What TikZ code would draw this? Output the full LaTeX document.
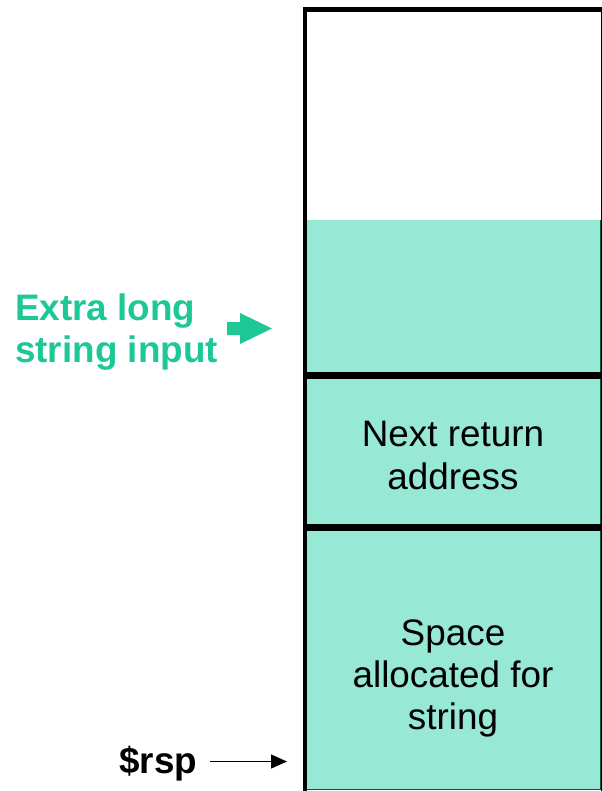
\documentclass[tikz,border=0pt]{standalone}
\usepackage{fontspec}
\setmainfont{Liberation Sans}
\usetikzlibrary{arrows.meta}
\definecolor{slotfill}{RGB}{152,232,214}
\definecolor{slotedge}{RGB}{14,88,66}
\definecolor{inputgreen}{RGB}{29,200,150}
\tikzset{
  frame/.style={draw=black, line width=4.2bp},
  divider/.style={draw=black, line width=6.5bp},
  slottext/.style={align=center, font=\fontsize{37}{42.3}\selectfont, text=black, inner sep=0pt},
  sidelabel/.style={align=left, font=\fontsize{37}{42}\selectfont\bfseries, inner sep=0pt},
  ptrarrow/.style={draw=black, line width=1.3bp, -{Triangle[length=16bp,width=14bp]}},
  blockarrow/.style={fill=inputgreen, draw=none}
}
\begin{document}
\begin{tikzpicture}[x=1bp,y=-1bp]
\useasboundingbox (0,0) rectangle (602,791);
\clip (0,0) rectangle (602,791);
% filled part of the stack with its thin outline
\fill[slotfill] (305.5,219.5) rectangle (600.5,789.5);
\draw[slotedge, line width=1.6bp] (305.8,219.5) -- (305.8,789.3) -- (600.3,789.3) -- (600.3,219.5);
% slot boundaries
\draw[divider] (305,375.5) -- (602,375.5);
\draw[divider] (305,527.5) -- (602,527.5);
% stack frame
\draw[frame] (304.6,795) -- (304.6,9.5) -- (602.6,9.5) -- (602.6,795);
% slot contents
\node[slottext] (ret) at (453,455.5) {Next return\\address};
\node[slottext] (buf) at (453,678.5) {Space\\allocated for\\string};
% overflowing input
\node[sidelabel, text=inputgreen, anchor=west] (extra) at (15,332) {Extra long\\string input};
\coordinate (overflow) at (272,328.5);
\fill[blockarrow] (overflow) -- ++(-32,-15.5) -- ++(0,9) -- ++(-13,0) -- ++(0,13)
  -- ++(13,0) -- ++(0,9) -- cycle;
% stack pointer
\node[sidelabel, text=black, anchor=west] (rsp) at (119,764) {\$rsp};
\coordinate (sp) at (287,761.5);
\draw[ptrarrow, shorten <=13bp] (rsp.east |- sp) -- (sp);
\end{tikzpicture}
\end{document}
